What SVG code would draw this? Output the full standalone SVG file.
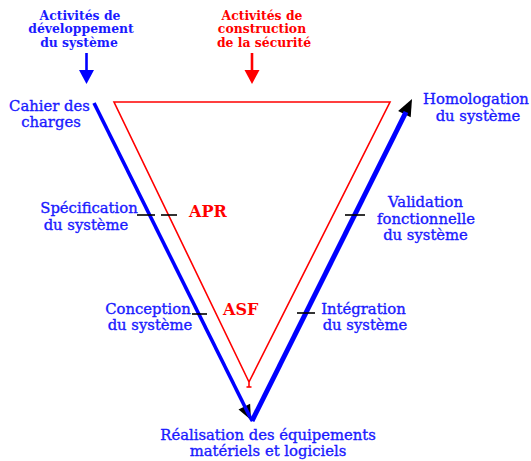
<svg xmlns="http://www.w3.org/2000/svg" width="531" height="461" viewBox="0 0 531 461">
  <style>
    .head { font-family: "DejaVu Serif", "Liberation Serif", serif; font-weight: bold; font-size: 12.4px; text-anchor: middle; }
    .blueT { fill: #1a1aff; }
    .redT { fill: #ff0000; }
    .lbl { font-family: "DejaVu Serif", "Liberation Serif", serif; font-size: 14.8px; text-anchor: middle; fill: #1a1aff; stroke: #1a1aff; stroke-width: 0.35; }
    .risk { font-family: "DejaVu Serif", "Liberation Serif", serif; font-weight: bold; font-size: 16px; fill: #ff0000; }
    .tick { stroke: #000; stroke-width: 1.6; fill: none; }
    .red { stroke: #ff0000; stroke-width: 1.6; fill: none; }
    .blue { stroke: #0000ff; fill: none; stroke-linecap: butt; }
  </style>
  <rect width="531" height="461" fill="#ffffff"/>

  <g id="head-dev">
    <text class="head blueT" x="80" y="19.5">Activités de</text>
    <text class="head blueT" x="81" y="33">développement</text>
    <text class="head blueT" x="79" y="46.5">du système</text>
  </g>
  <g id="head-sec">
    <text class="head redT" x="262" y="19.5">Activités de</text>
    <text class="head redT" x="262" y="33">construction</text>
    <text class="head redT" x="264" y="46.5">de la sécurité</text>
  </g>

  <g id="connectors">
    <!-- top arrows -->
    <line x1="86.5" y1="53" x2="86.5" y2="72" stroke="#0000ff" stroke-width="2.6"/>
    <polygon points="79,70 94,70 86.5,84" fill="#0000ff"/>
    <line x1="252" y1="53" x2="252" y2="72" stroke="#ff0000" stroke-width="2.6"/>
    <polygon points="244.5,70 259.5,70 252,84" fill="#ff0000"/>

    <!-- red triangle -->
    <polyline class="red" points="249,382 114,102 390,102 249,382"/>
    <line class="red" x1="249" y1="382" x2="249" y2="387"/>
    <line class="red" x1="246.5" y1="387" x2="251.5" y2="387"/>

    <!-- arrowheads -->
    <polygon points="251,420 250.1,403.7 238.5,409.5" fill="#000"/>
    <polygon points="412,99 410.7,117.3 398.1,111.1" fill="#000"/>

    <!-- blue V -->
    <line class="blue" x1="94" y1="103" x2="250" y2="417" stroke-width="3.6"/>
    <line class="blue" x1="252" y1="421" x2="406" y2="112" stroke-width="5"/>
    <line class="blue" x1="250" y1="417" x2="252.5" y2="421" stroke-width="3.6"/>

    <!-- ticks -->
    <line class="tick" x1="137" y1="215" x2="155" y2="215"/>
    <line class="tick" x1="161" y1="215" x2="177" y2="215"/>
    <line class="tick" x1="192" y1="314" x2="207" y2="314"/>
    <line class="tick" x1="345" y1="215" x2="365" y2="215"/>
    <line class="tick" x1="297" y1="313" x2="315" y2="313"/>
  </g>

  <g id="cahier">
    <text class="lbl" x="49.5" y="110.5">Cahier des</text>
    <text class="lbl" x="51" y="126.5">charges</text>
  </g>
  <g id="homologation">
    <text class="lbl" x="476" y="104">Homologation</text>
    <text class="lbl" x="478" y="121">du système</text>
  </g>
  <g id="specification">
    <text class="lbl" x="89" y="213">Spécification</text>
    <text class="lbl" x="86" y="230">du système</text>
  </g>
  <g id="validation">
    <text class="lbl" x="425.5" y="207">Validation</text>
    <text class="lbl" x="426" y="224">fonctionnelle</text>
    <text class="lbl" x="425.5" y="240">du système</text>
  </g>
  <g id="conception">
    <text class="lbl" x="148" y="314">Conception</text>
    <text class="lbl" x="150" y="330">du système</text>
  </g>
  <g id="integration">
    <text class="lbl" x="363.5" y="314">Intégration</text>
    <text class="lbl" x="365" y="330">du système</text>
  </g>
  <g id="realisation">
    <text class="lbl" x="268" y="439.5">Réalisation des équipements</text>
    <text class="lbl" x="268" y="455.5">matériels et logiciels</text>
  </g>
  <g id="apr">
    <text class="risk" x="189" y="217">APR</text>
  </g>
  <g id="asf">
    <text class="risk" x="223" y="315">ASF</text>
  </g>
</svg>
